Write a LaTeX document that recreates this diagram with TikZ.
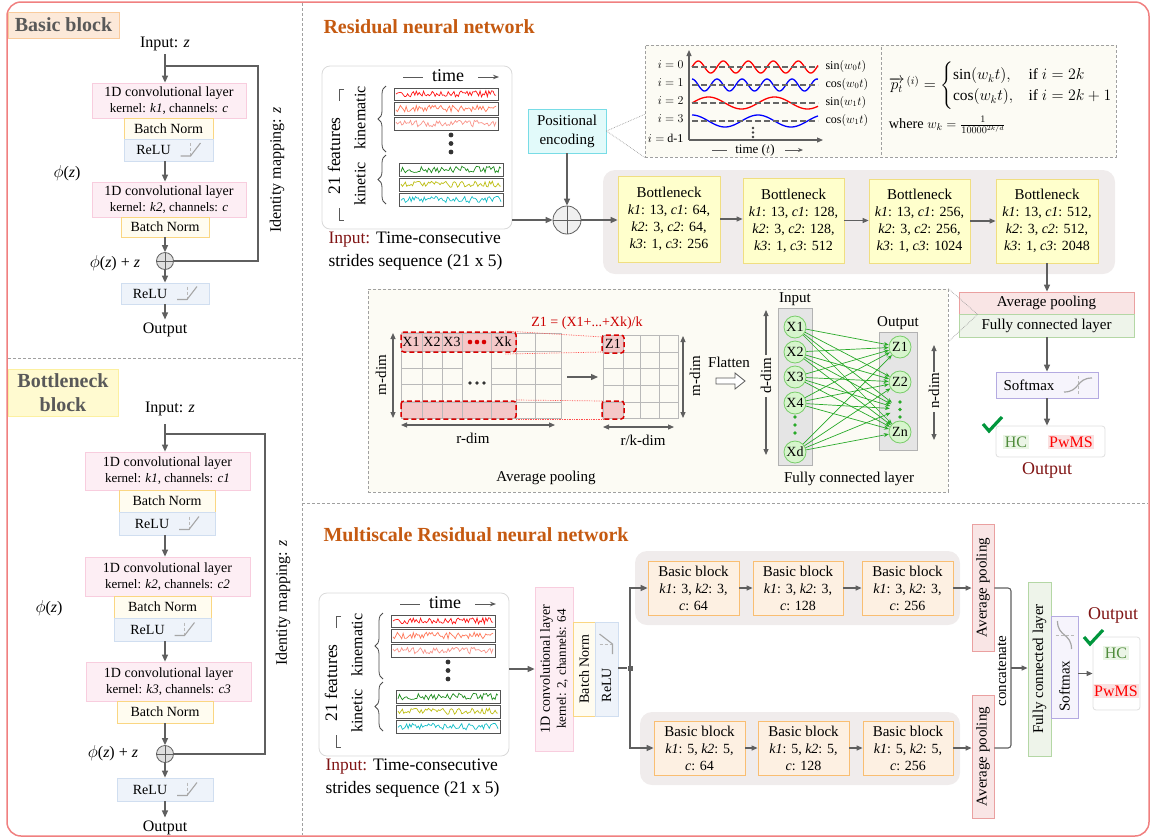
\documentclass[tikz,border=0pt]{standalone}
\usepackage{amsmath}
\usepackage{fontspec}
\setmainfont{Liberation Serif}
\usetikzlibrary{arrows.meta,decorations.pathreplacing,calc}

\definecolor{framec}{RGB}{240,128,128}
\definecolor{sepc}{RGB}{160,160,160}
\definecolor{arrc}{RGB}{95,95,95}
\definecolor{pinkf}{RGB}{253,238,244}
\definecolor{pinkd}{RGB}{248,205,222}
\definecolor{bnf}{RGB}{255,252,240}
\definecolor{bnd}{RGB}{250,214,130}
\definecolor{reluf}{RGB}{238,243,250}
\definecolor{relud}{RGB}{208,222,240}
\definecolor{bbtf}{RGB}{252,233,217}
\definecolor{bbtd}{RGB}{249,203,156}
\definecolor{bntf}{RGB}{255,250,208}
\definecolor{bntd}{RGB}{252,240,160}
\definecolor{titlec}{RGB}{197,90,17}
\definecolor{ttc}{RGB}{89,89,89}
\definecolor{bottf}{RGB}{255,255,204}
\definecolor{bottd}{RGB}{240,222,130}
\definecolor{grpf}{RGB}{240,236,236}
\definecolor{pef}{RGB}{226,250,250}
\definecolor{ped}{RGB}{120,220,230}
\definecolor{basf}{RGB}{253,240,226}
\definecolor{basd}{RGB}{249,190,114}
\definecolor{apf}{RGB}{249,229,229}
\definecolor{apd}{RGB}{234,160,160}
\definecolor{fcf}{RGB}{238,244,234}
\definecolor{fcd}{RGB}{180,215,165}
\definecolor{smf}{RGB}{246,244,252}
\definecolor{smd}{RGB}{180,170,225}
\definecolor{darkredc}{RGB}{128,20,20}
\definecolor{hcc}{RGB}{80,140,60}
\definecolor{hcf}{RGB}{235,245,230}
\definecolor{pwf}{RGB}{250,225,225}
\definecolor{checkc}{RGB}{0,150,60}
\definecolor{detf}{RGB}{252,251,244}
\definecolor{nodef}{RGB}{215,245,205}
\definecolor{noded}{RGB}{120,205,105}
\definecolor{fcarr}{RGB}{40,170,40}
\definecolor{hlf}{RGB}{244,200,200}
\definecolor{kin1}{RGB}{255,20,20}
\definecolor{kin2}{RGB}{255,120,90}
\definecolor{kin3}{RGB}{250,150,140}
\definecolor{ket1}{RGB}{30,140,30}
\definecolor{ket2}{RGB}{190,190,20}
\definecolor{ket3}{RGB}{20,190,200}

\tikzset{
 bxat/.style args={#1,#2,#3,#4}{minimum width={(#3)-(#1)}, minimum height={(#4)-(#2)}, at={({((#1)+(#3))/2},{((#2)+(#4))/2})}},
 f12/.style={font=\fontsize{12}{14}\selectfont},
 f13/.style={font=\fontsize{13}{15}\selectfont},
 f14/.style={font=\fontsize{14}{16}\selectfont},
 f15/.style={font=\fontsize{15}{17}\selectfont},
 f16/.style={font=\fontsize{16}{18}\selectfont},
 f17/.style={font=\fontsize{17.5}{20}\selectfont},
 f18/.style={font=\fontsize{18}{20}\selectfont},
 ttl/.style={font=\bfseries\fontsize{20}{22}\selectfont, text=titlec, anchor=west},
 arr/.style={draw=arrc, line width=1.3pt, -{Triangle[length=7pt,width=6pt]}},
 sarr/.style={draw=arrc, line width=1.1pt, -{Triangle[length=6pt,width=5pt]}},
 conn/.style={draw=arrc, line width=1.3pt},
 dimarr/.style={draw=arrc, line width=1.1pt, {Triangle[length=6pt,width=5pt]}-{Triangle[length=6pt,width=5pt]}},
 onearr/.style={draw=arrc, line width=1.1pt, -{Triangle[length=6pt,width=5pt]}},
 bx/.style={draw, line width=0.8pt, inner sep=0pt, align=center, font=\fontsize{14}{16}\selectfont},
 pinkbox/.style={bx, fill=pinkf, draw=pinkd},
 bnbox/.style={bx, fill=bnf, draw=bnd},
 relubox/.style={bx, fill=reluf, draw=relud},
 botbox/.style={bx, fill=bottf, draw=bottd, font=\fontsize{14}{17}\selectfont},
 basbox/.style={bx, fill=basf, draw=basd, font=\fontsize{14}{17}\selectfont},
 grp/.style={fill=grpf, rounded corners=12pt, inner sep=0pt},
 apbox/.style={bx, fill=apf, draw=apd, font=\fontsize{15}{17}\selectfont},
 fcbox/.style={bx, fill=fcf, draw=fcd, font=\fontsize{15}{17}\selectfont},
 smbox/.style={bx, fill=smf, draw=smd, font=\fontsize{15}{17}\selectfont},
 pebox/.style={bx, fill=pef, draw=ped, font=\fontsize{15}{19}\selectfont},
 outbox/.style={draw=gray!25, line width=0.8pt, rounded corners=3pt, fill=white, inner sep=0pt},
 plusc/.style={circle, draw=arrc, fill=gray!25, minimum size=17pt, inner sep=0pt, line width=0.8pt,
   path picture={\draw[arrc, line width=0.7pt] (path picture bounding box.north) -- (path picture bounding box.south) (path picture bounding box.west) -- (path picture bounding box.east);}},
 sepl/.style={draw=sepc, dash pattern=on 3pt off 2pt, line width=0.8pt},
 detbox/.style={draw=sepc, densely dashed, fill=detf, inner sep=0pt, line width=0.7pt},
 sigfr/.style={draw=gray!65!black, line width=1pt},
 tline/.style={draw=gray!70!black, line width=0.9pt},
 brc/.style={draw=gray!60!black, line width=0.8pt, decorate, decoration={brace, amplitude=8pt}},
 gridl/.style={draw=gray!55, line width=0.6pt},
 hld/.style={draw=red!85!black, dash pattern=on 5pt off 3pt, line width=1.5pt, rounded corners=3pt},
 rdot/.style={draw=red!70, densely dotted, line width=0.7pt},
 nrn/.style={circle, fill=nodef, draw=noded, line width=0.8pt, minimum size=22pt, inner sep=0pt, font=\fontsize{14}{16}\selectfont},
 fca/.style={draw=fcarr, line width=0.7pt, -{Stealth[length=5pt,width=4pt]}},
 chk/.style={draw=checkc, line width=3.2pt},
 hcn/.style={fill=hcf, text=hcc, inner sep=1.5pt, font=\fontsize{16}{18}\selectfont},
 pwn/.style={fill=pwf, text=red, inner sep=1.5pt, font=\fontsize{16}{18}\selectfont},
 reluic/.pic={
   \draw[gray!55, densely dashed, line width=0.6pt] (0,-7) -- (0,6);
   \draw[gray!70, line width=1.1pt] (-10,6) -- (0,6) -- (10,-7);
 },
 sigic/.pic={
   \draw[gray!55, densely dashed, line width=0.6pt] (0,-9) -- (0,9);
   \draw[gray!70, line width=1.2pt] (-14,7) .. controls (2,7) and (-2,-7) .. (14,-7);
 }
}

\newcommand\convtxt[2]{1D convolutional layer\\{\fontsize{13}{14}\selectfont kernel: \textit{#1}, channels: \textit{#2}}}
\newcommand\relutxt{ReLU\rule{30pt}{0pt}}
\newcommand\phiz{$\phi$(\textit{z})}
\newcommand\sigline[6]{%
 \pgfmathsetseed{#6}%
 \draw[#5, line width=0.7pt] plot[domain=#1+2:#3-2, samples=70] (\x,{(#2+#4)/2+3.3*rand});
 \draw[sigfr] (#1,#2) rectangle (#3,#4);}
\newcommand\inpanel[1]{%
 \node[draw=gray!30, fill=white, rounded corners=8pt, line width=0.8pt, minimum width=190pt, minimum height=163pt, inner sep=0pt] (#1box) at (417,147.5) {};
 \node[f18] (#1time) at (448,76) {time};
 \draw[tline] (403,77) -- (423,77);
 \draw[tline, -{Stealth[length=6pt,width=4.5pt]}] (478,77) -- (499,77);
 \sigline{394}{88}{498}{100}{kin1}{11}%
 \sigline{394}{102}{498}{115}{kin2}{12}%
 \sigline{394}{117}{498}{130}{kin3}{13}%
 \fill[gray!40!black] (451,135) circle (2.4) (451,143.5) circle (2.4) (451,152) circle (2.4);
 \sigline{399}{163}{503}{176}{ket1}{14}%
 \sigline{399}{178}{503}{191}{ket2}{15}%
 \sigline{399}{193}{503}{206}{ket3}{16}%
 \draw[brc] (386,152) -- (386,86);
 \draw[brc] (386,204) -- (386,155);
 \node[f16, rotate=90] (#1kinem) at (360,118) {kinematic};
 \node[f16, rotate=90] (#1kinet) at (360,184) {kinetic};
 \node[f17, rotate=90] (#1feat) at (334,156) {21 features};
 \draw[tline] (344,89) -- (339,89) -- (339,101);
 \draw[tline] (339,208) -- (339,220) -- (344,220);
 \node[f17, anchor=west] (#1capa) at (325,240) {\textcolor{darkredc}{Input:} Time-consecutive};
 \node[f17, anchor=west] (#1capb) at (325,262) {strides sequence (21 x 5)};
}

\begin{document}
\begin{tikzpicture}[x=1pt,y=-1pt]
\useasboundingbox (0,0) rectangle (1151,839);
\draw[framec, line width=1.5pt, rounded corners=14pt] (7,2) rectangle (1149,836);
\draw[sepl] (302,3) -- (302,835);
\draw[sepl] (8,358) -- (302,358);
\draw[sepl] (302,503) -- (1148,503);

%================ Basic block
\node[bxat={8,12,119,38}, draw=bbtd, fill=bbtf, inner sep=0pt, font=\bfseries\fontsize{20}{22}\selectfont, text=ttc] (tbasic) {Basic block};
\node[f16] (bin) at (165,44) {Input: \textit{z}};
\node[pinkbox, bxat={92,83,246,118}] (bc1) {\convtxt{k1}{c}};
\node[bnbox, bxat={124,118,213,139}] (bbn1) {Batch Norm};
\node[relubox, bxat={124,139,213,161}] (brl1) {\relutxt};
\pic at ($(brl1.center)+(22,0)$) {reluic};
\node[pinkbox, bxat={92,182,246,217}] (bc2) {\convtxt{k2}{c}};
\node[bnbox, bxat={121,217,209,237}] (bbn2) {Batch Norm};
\node[plusc] (bplus) at (165,261) {};
\node[relubox, bxat={121,283,209,304}] (brl2) {\relutxt};
\pic at ($(brl2.center)+(22,0)$) {reluic};
\node[f16] (bout) at (165,330) {Output};
\node[f16] (bphi) at (67,173) {\phiz};
\node[f16] (bphiz) at (115,263) {\phiz{} + \textit{z}};
\node[f16, rotate=90] (bid) at (277,170) {Identity mapping: \textit{z}};
\draw[arr] (bin.south -| bplus) -- (bplus |- bc1.north);
\draw[conn] (bplus |- 0,66) -- (258,66) -- (258,261) -- (bplus.east);
\draw[arr] (bplus |- brl1.south) -- (bplus |- bc2.north);
\draw[arr] (bbn2.south -| bplus) -- (bplus.north);
\draw[arr] (bplus.south) -- (bplus |- brl2.north);
\draw[arr] (bplus |- brl2.south) -- (bplus |- bout.north);

%================ Bottleneck block
\node[bxat={8,369,118,416}, draw=bntd, fill=bntf, inner sep=0pt, align=center, font=\bfseries\fontsize{20}{24}\selectfont, text=ttc] (tbott) {Bottleneck\\block};
\node[f16] (nin) at (170,409) {Input: \textit{z}};
\node[pinkbox, bxat={85,452,250,490}] (nc1) {\convtxt{k1}{c1}};
\node[bnbox, bxat={119,490,215,512}] (nbn1) {Batch Norm};
\node[relubox, bxat={119,512,215,535}] (nrl1) {\relutxt};
\pic at ($(nrl1.center)+(22,0)$) {reluic};
\node[pinkbox, bxat={85,557,250,596}] (nc2) {\convtxt{k2}{c2}};
\node[bnbox, bxat={114,596,211,618}] (nbn2) {Batch Norm};
\node[relubox, bxat={114,618,211,641}] (nrl2) {\relutxt};
\pic at ($(nrl2.center)+(22,0)$) {reluic};
\node[pinkbox, bxat={86,662,251,701}] (nc3) {\convtxt{k3}{c3}};
\node[bnbox, bxat={117,701,213,723}] (nbn3) {Batch Norm};
\node[plusc] (nplus) at (165,754) {};
\node[relubox, bxat={117,778,213,801}] (nrl3) {\relutxt};
\pic at ($(nrl3.center)+(22,0)$) {reluic};
\node[f16] (nout) at (165,828) {Output};
\node[f16] (nphi) at (49,608) {\phiz};
\node[f16] (nphiz) at (113,753) {\phiz{} + \textit{z}};
\node[f16, rotate=90] (nid) at (283,603) {Identity mapping: \textit{z}};
\draw[arr] (nplus |- 0,424) -- (nplus |- nc1.north);
\draw[conn] (nplus |- 0,434) -- (265,434) -- (265,754) -- (nplus.east);
\draw[arr] (nplus |- nrl1.south) -- (nplus |- nc2.north);
\draw[arr] (nplus |- nrl2.south) -- (nplus |- nc3.north);
\draw[arr] (nplus |- nbn3.south) -- (nplus.north);
\draw[arr] (nplus.south) -- (nplus |- nrl3.north);
\draw[arr] (nplus |- nrl3.south) -- (nplus |- nout.north);

%================ Residual neural network
\node[ttl] (rtitle) at (320,27) {Residual neural network};
\inpanel{r}
\node[pebox, bxat={528,109,606,153}] (penc) {Positional\\encoding};
\node[plusc, minimum size=28pt, fill=gray!12] (rplus) at (567,220) {};
\draw[arr] (rbox.east |- rplus) -- (rplus.west);
\draw[arr] (penc.south) -- (rplus.north);

\node[grp, bxat={603,170,1115,274}] (rgrp) {};
\node[botbox, bxat={618,176,720,262}] (rb1) {{\fontsize{15}{17}\selectfont Bottleneck}\\\textit{k1}: 13, \textit{c1}: 64,\\\textit{k2}: 3, \textit{c2}: 64,\\\textit{k3}: 1, \textit{c3}: 256};
\node[botbox, bxat={743,178,844,263}] (rb2) {{\fontsize{15}{17}\selectfont Bottleneck}\\\textit{k1}: 13, \textit{c1}: 128,\\\textit{k2}: 3, \textit{c2}: 128,\\\textit{k3}: 1, \textit{c3}: 512};
\node[botbox, bxat={869,179,970,263}] (rb3) {{\fontsize{15}{17}\selectfont Bottleneck}\\\textit{k1}: 13, \textit{c1}: 256,\\\textit{k2}: 3, \textit{c2}: 256,\\\textit{k3}: 1, \textit{c3}: 1024};
\node[botbox, bxat={996,179,1098,263}] (rb4) {{\fontsize{15}{17}\selectfont Bottleneck}\\\textit{k1}: 13, \textit{c1}: 512,\\\textit{k2}: 3, \textit{c2}: 512,\\\textit{k3}: 1, \textit{c3}: 2048};
\draw[arr] (rplus.east) -- (rplus.east -| rb1.west);
\draw[sarr] (rb1.east) -- (rb1.east -| rb2.west);
\draw[sarr] (rb2.east) -- (rb2.east -| rb3.west);
\draw[sarr] (rb3.east) -- (rb3.east -| rb4.west);

% positional encoding detail
\node[detbox, bxat={645,45,1116,157}] (pedet) {};
\draw[sepc, densely dashed, line width=0.7pt] (881,47) -- (881,155);
\draw[sepc, densely dotted, line width=0.7pt] (penc.east) -- ($(pedet.south west)+(0,-43)$);
\draw[sepc, densely dotted, line width=0.7pt] (penc.east) -- (pedet.south west);
\draw[arrc, line width=1.2pt, -{Triangle[length=6pt,width=5pt]}] (689,140) -- (689,50);
\draw[arrc, line width=1.2pt, -{Triangle[length=6pt,width=5pt]}] (689,140) -- (823,140);
\draw[red, line width=1.3pt] plot[domain=0:126, samples=120] ({692+\x},{67-6*sin(\x*14.4)});
\draw[blue, line width=1.3pt] plot[domain=0:126, samples=120] ({692+\x},{85-6*cos(\x*14.4)});
\draw[red, line width=1.3pt] plot[domain=0:126, samples=120] ({692+\x},{103-6*sin(\x*5.4545)});
\draw[blue, line width=1.3pt] plot[domain=0:126, samples=120] ({692+\x},{121-6*cos(\x*5.4545)});
\foreach \yy in {67,85,103,121} \draw[gray!80!black, line width=1.2pt, dash pattern=on 6pt off 3pt] (692,\yy) -- (818,\yy);
\node[f12, anchor=east] (pi0) at (687,65) {$i = 0$};
\node[f12, anchor=east] (pi1) at (687,83) {$i = 1$};
\node[f12, anchor=east] (pi2) at (687,101) {$i = 2$};
\node[f12, anchor=east] (pi3) at (687,119) {$i = 3$};
\node[f12, anchor=east] (pid) at (687,138) {$i =$ d-1};
\node[f12, anchor=west] (ps0) at (822,66) {$\sin(w_0t)$};
\node[f12, anchor=west] (ps1) at (822,84) {$\cos(w_0t)$};
\node[f12, anchor=west] (ps2) at (822,102) {$\sin(w_1t)$};
\node[f12, anchor=west] (ps3) at (822,120) {$\cos(w_1t)$};
\fill[gray!50!black] (753,128) circle (1.3) (753,132.5) circle (1.3) (753,137) circle (1.3);
\node[f13] (ptime) at (755,150) {time ($t$)};
\draw[tline] (712,150) -- (727,150);
\draw[tline, -{Stealth[length=5pt,width=4pt]}] (785,150) -- (803,150);
\node[f14, anchor=west, scale=1.1, transform shape] (pform) at (885,86) {$\overrightarrow{p_t}^{\,(i)} = \begin{cases}\sin(w_kt), & \text{if } i=2k\\ \cos(w_kt), & \text{if } i=2k+1\end{cases}$};
\node[f13, anchor=west, scale=1.1, transform shape] (pwhere) at (885,125) {where $w_k = \frac{1}{10000^{2k/d}}$};

% right output
\node[apbox, bxat={959,292,1134,314}] (rap) {Average pooling};
\node[fcbox, bxat={959,314,1134,337}] (rfc) {Fully connected layer};
\node[smbox, bxat={996,372,1098,398}] (rsm) {Softmax\rule{36pt}{0pt}};
\pic at ($(rsm.center)+(31,0)$) {sigic};
\node[outbox, bxat={996,426,1105,457}] (rout) {};
\node[hcn] (rhc) at (1016,442) {HC};
\node[pwn] (rpw) at (1071,442) {PwMS};
\node[f18, text=darkredc] (routl) at (1047,470) {Output};
\draw[chk] (983,424) -- (989,431) -- (1002,417);
\draw[arr] (rb4.south) -- (rb4.south |- rap.north);
\draw[arr] (rfc.south -| rb4) -- (rb4 |- rsm.north);
\draw[arr] (rsm.south -| rb4) -- (rb4 |- rout.north);

% average pooling / FC detail
\node[detbox, bxat={368,289,948,492}] (apdet) {};
\draw[sepc, densely dotted, line width=0.7pt] (apdet.north east) -- ($(rap.south west)+(19,0)$) -- (948,342);
\fill[hlf] (401,332) rectangle (516,352);
\fill[hlf] (401,401) rectangle (516,419);
\fill[hlf] (602,335) rectangle (624,353);
\fill[hlf] (602,401) rectangle (624,419);
\draw[gridl] (401,333) rectangle (561,418);
\foreach \yy in {351,402} \draw[gridl] (401,\yy) -- (561,\yy);
\foreach \yy in {368,384} {\draw[gridl] (401,\yy) -- (462,\yy); \draw[gridl] (491,\yy) -- (561,\yy);}
\foreach \xx in {422,442,462,491,516,535} \draw[gridl] (\xx,333) -- (\xx,418);
\draw[gridl] (603,335) rectangle (678,418);
\foreach \xx in {623,640,659} \draw[gridl] (\xx,335) -- (\xx,418);
\foreach \yy in {352,368,385,402} \draw[gridl] (603,\yy) -- (678,\yy);
\draw[hld] (401,332) rectangle (516,352);
\draw[hld] (401,401) rectangle (516,419);
\draw[hld] (602,335) rectangle (624,353);
\draw[hld] (602,401) rectangle (624,419);
\node[f14] (gx1) at (411,342) {X1};
\node[f14] (gx2) at (432,342) {X2};
\node[f14] (gx3) at (452,342) {X3};
\node[f14] (gxk) at (503,342) {Xk};
\node[f14] (gz1) at (613,344) {Z1};
\fill[red!85!black] (470,342) circle (2.3) (477,342) circle (2.3) (484,342) circle (2.3);
\fill[gray!40!black] (470,383) circle (1.8) (477,383) circle (1.8) (484,383) circle (1.8);
\draw[rdot] (505,331) -- (603,337);
\draw[rdot] (505,354) -- (603,352);
\draw[rdot] (516,400) -- (603,401);
\draw[rdot] (516,419) -- (603,419);
\node[f14, text=red!80!black] (zform) at (587,323) {Z1 = (X1+...+Xk)/k};
\draw[arr] (567,377) -- (598,377);
\draw[dimarr] (393,333) -- (393,418);
\node[f15, rotate=90] (mdim1) at (381,375) {m-dim};
\draw[dimarr] (401,425) -- (555,425);
\node[f15] (rdim) at (473,438) {r-dim};
\draw[dimarr] (683,336) -- (683,418);
\node[f15, rotate=90] (mdim2) at (695,376) {m-dim};
\draw[dimarr] (603,427) -- (674,427);
\node[f15] (rkdim) at (643,440) {r/k-dim};
\node[f15] (aplab) at (546,478) {Average pooling};
\node[f15] (flat) at (729,362) {Flatten};
\draw[gray!70!black, line width=0.8pt, fill=white] (716,378) -- (735,378) -- (735,373) -- (745,381) -- (735,389) -- (735,384) -- (716,384) -- cycle;
\node[fill=gray!20, draw=gray!60, line width=0.8pt, inner sep=0pt, bxat={778,308,812,465}] (incol) {};
\node[fill=gray!20, draw=gray!60, line width=0.8pt, inner sep=0pt, bxat={879,332,917,450}] (outcol) {};
\node[f15] (inlab) at (795,299) {Input};
\node[f15] (outlab) at (898,323) {Output};
\node[nrn] (fx1) at (795,327) {X1};
\node[nrn] (fx2) at (795,352) {X2};
\node[nrn] (fx3) at (795,377) {X3};
\node[nrn] (fx4) at (795,403) {X4};
\node[nrn] (fxd) at (795,452) {Xd};
\node[nrn] (fz1) at (900,347) {Z1};
\node[nrn] (fz2) at (900,382) {Z2};
\node[nrn] (fzn) at (900,432) {Zn};
\node[circle, inner sep=0pt, minimum size=20pt] (fzd) at (900,409) {};
\fill[fcarr] (795,417) circle (1.8) (795,425) circle (1.8) (795,433) circle (1.8);
\fill[fcarr] (900,402) circle (1.8) (900,409.5) circle (1.8) (900,417) circle (1.8);
\foreach \s in {fx1,fx2,fx3,fx4,fxd} {\foreach \t in {fz1,fz2,fzd,fzn} {\draw[fca] (\s) -- (\t);}}
\draw[onearr] (766,355) -- (766,310);
\draw[onearr] (766,397) -- (766,455);
\node[f15, rotate=90] (ddim) at (766,376) {d-dim};
\draw[onearr] (934,372) -- (934,345);
\draw[onearr] (934,412) -- (934,440);
\node[f15, rotate=90] (ndim) at (934,391) {n-dim};
\node[f15] (fclab) at (849,479) {Fully connected layer};

%================ Multiscale
\node[ttl] (mtitle) at (320,535) {Multiscale Residual neural network};
\begin{scope}[shift={(-3,527)}]
\inpanel{m}
\end{scope}
\node[pinkbox, bxat={535,587,573,751}] (mconv) {};
\node[rotate=90, align=center, f14] (mconvt) at (mconv.center) {1D convolutional layer\\{\fontsize{13}{14}\selectfont kernel: 2, channels: 64}};
\node[bnbox, bxat={573,622,595,716}] (mbn) {};
\node[rotate=90, f14] (mbnt) at (mbn.center) {Batch Norm};
\node[relubox, bxat={595,622,618,716}] (mrelu) {};
\node[rotate=90, f14] (mrelut) at ($(mrelu.center)+(0,16)$) {ReLU};
\pic[rotate=90] at ($(mrelu.center)+(0,-25)$) {reluic};
\draw[arr] (mbox.east |- mconv.west) -- (mconv.west);
\node[fill=arrc, minimum size=5pt, inner sep=0pt] (mjn) at (630,668) {};
\draw[conn] (mrelu.east |- mjn) -- (mjn);

\node[grp, bxat={635,551,960,625}] (mtg) {};
\node[grp, bxat={640,712,960,785}] (mbg) {};
\node[basbox, bxat={648,561,739,615}] (mt1) {{\fontsize{15}{17}\selectfont Basic block}\\\textit{k1}: 3, \textit{k2}: 3,\\\textit{c}: 64};
\node[basbox, bxat={753,561,843,615}] (mt2) {{\fontsize{15}{17}\selectfont Basic block}\\\textit{k1}: 3, \textit{k2}: 3,\\\textit{c}: 128};
\node[basbox, bxat={862,561,953,615}] (mt3) {{\fontsize{15}{17}\selectfont Basic block}\\\textit{k1}: 3, \textit{k2}: 3,\\\textit{c}: 256};
\node[basbox, bxat={654,721,745,775}] (mb1) {{\fontsize{15}{17}\selectfont Basic block}\\\textit{k1}: 5, \textit{k2}: 5,\\\textit{c}: 64};
\node[basbox, bxat={758,721,849,775}] (mb2) {{\fontsize{15}{17}\selectfont Basic block}\\\textit{k1}: 5, \textit{k2}: 5,\\\textit{c}: 128};
\node[basbox, bxat={863,721,953,775}] (mb3) {{\fontsize{15}{17}\selectfont Basic block}\\\textit{k1}: 5, \textit{k2}: 5,\\\textit{c}: 256};
\draw[arr] (mjn.center) |- (mt1.west);
\draw[arr] (mjn.center) |- (mb1.west);
\draw[sarr] (mt1.east) -- (mt1.east -| mt2.west);
\draw[sarr] (mt2.east) -- (mt2.east -| mt3.west);
\draw[sarr] (mb1.east) -- (mb1.east -| mb2.west);
\draw[sarr] (mb2.east) -- (mb2.east -| mb3.west);

\node[apbox, bxat={972,524,994,651}] (map1) {};
\node[rotate=90, f15] (map1t) at (map1.center) {Average pooling};
\node[apbox, bxat={972,695,994,818}] (map2) {};
\node[rotate=90, f15] (map2t) at (map2.center) {Average pooling};
\draw[sarr] (mt3.east) -- (mt3.east -| map1.west);
\draw[sarr] (mb3.east) -- (mb3.east -| map2.west);
\node[fcbox, bxat={1028,582,1051,756}] (mfc) {};
\node[rotate=90, f15] (mfct) at (mfc.center) {Fully connected layer};
\node[smbox, bxat={1051,616,1078,718}] (msm) {};
\node[rotate=90, f15] (msmt) at ($(msm.center)+(0,19)$) {Softmax};
\pic[rotate=90] at ($(msm.center)+(0,-32)$) {sigic};
\draw[conn, line width=1.1pt, rounded corners=3pt] (map1.east |- mt3.east) -- (1011,588) -- (1011,748) -- (map2.east |- mb3.east);
\coordinate (mcat) at (1011,668);
\node[rotate=90, f15] (mcatt) at (1002,671) {concatenate};
\draw[sarr] (mcat) -- (mcat -| mfc.west);
\node[outbox, bxat={1093,637,1140,710}] (mout) {};
\node[hcn] (mhc) at (1116,653) {HC};
\node[pwn] (mpw) at (1116,691) {PwMS};
\node[f18, text=darkredc] (moutl) at (1113,615) {Output};
\draw[chk] (1084,637) -- (1090,644) -- (1103,630);
\draw[sarr] (msm.east |- mout.west) -- (mout.west);
\end{tikzpicture}
\end{document}
